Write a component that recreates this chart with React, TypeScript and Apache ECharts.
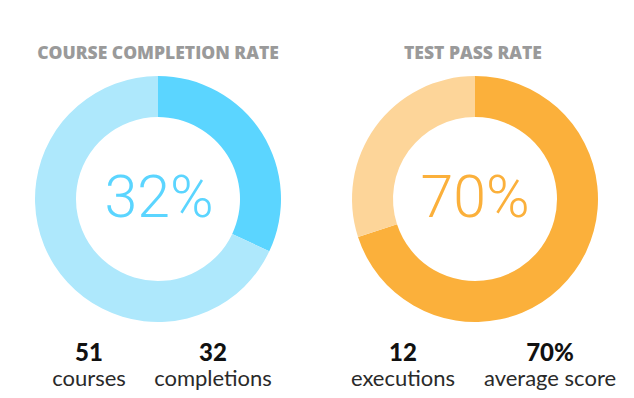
import React, { useEffect, useRef } from "react";
import * as echarts from "echarts";

const titles = ["COURSE COMPLETION RATE", "TEST PASS RATE"];
const courseSegments = ["completed", "remaining"];
const courseValues = [32, 68];
const testSegments = ["passed", "remaining"];
const testValues = [70, 30];
const centerLabels = ["32%", "70%"];
const statNumbers = ["51", "32", "12", "70%"];
const statLabels = ["courses", "completions", "executions", "average score"];

const blueDark = "#5BD5FF";
const blueLight = "#AEE8FC";
const orangeDark = "#FBB03B";
const orangeLight = "#FDD599";

export default function App() {
  const ref = useRef<HTMLDivElement>(null);
  useEffect(() => {
    if (!ref.current) return;
    const chart = echarts.init(ref.current, null, { renderer: "svg" });
    const statX = [89, 213, 403, 550];
    const titleX = [158, 473];
    const pieCenters = [158, 475];
    const option: any = {
      animation: false,
      backgroundColor: "#ffffff",
      series: [
        {
          type: "pie",
          center: [pieCenters[0], 199],
          radius: [82, 123],
          startAngle: 90,
          clockwise: true,
          label: { show: false },
          labelLine: { show: false },
          emphasis: { disabled: true },
          silent: true,
          data: courseSegments.map((n, i) => ({
            name: n,
            value: courseValues[i],
            itemStyle: { color: i === 0 ? blueDark : blueLight },
          })),
        },
        {
          type: "pie",
          center: [pieCenters[1], 199],
          radius: [82, 123],
          startAngle: 90,
          clockwise: true,
          label: { show: false },
          labelLine: { show: false },
          emphasis: { disabled: true },
          silent: true,
          data: testSegments.map((n, i) => ({
            name: n,
            value: testValues[i],
            itemStyle: { color: i === 0 ? orangeDark : orangeLight },
          })),
        },
      ],
      graphic: [
        ...titles.map((t, i) => ({
          type: "text",
          x: titleX[i],
          y: 52,
          style: {
            text: t,
            fill: "#9a9a9a",
            font: "800 17.5px 'Open Sans'",
            textAlign: "center",
            textVerticalAlign: "middle",
          },
        })),
        {
          type: "text",
          x: 159,
          y: 196,
          style: {
            text: centerLabels[0],
            fill: blueDark,
            font: "300 59px Roboto",
            textAlign: "center",
            textVerticalAlign: "middle",
          },
        },
        {
          type: "text",
          x: 475,
          y: 196,
          style: {
            text: centerLabels[1],
            fill: orangeDark,
            font: "300 59px Roboto",
            textAlign: "center",
            textVerticalAlign: "middle",
          },
        },
        ...statNumbers.map((s, i) => ({
          type: "text",
          x: statX[i],
          y: 351,
          style: {
            text: s,
            fill: "#111111",
            font: "900 24px Lato",
            lineHeight: 24,
            textAlign: "center",
            textVerticalAlign: "middle",
          },
        })),
        ...statLabels.map((s, i) => ({
          type: "text",
          x: statX[i],
          y: 377,
          style: {
            text: s,
            fill: "#2a2a2a",
            font: "400 22px Lato",
            lineHeight: 22,
            textAlign: "center",
            textVerticalAlign: "middle",
          },
        })),
      ],
    };
    chart.setOption(option);
    return () => chart.dispose();
  }, []);
  return (
    <div
      ref={ref}
      style={{ position: "fixed", left: 0, top: 0, width: 634, height: 398 }}
    />
  );
}
